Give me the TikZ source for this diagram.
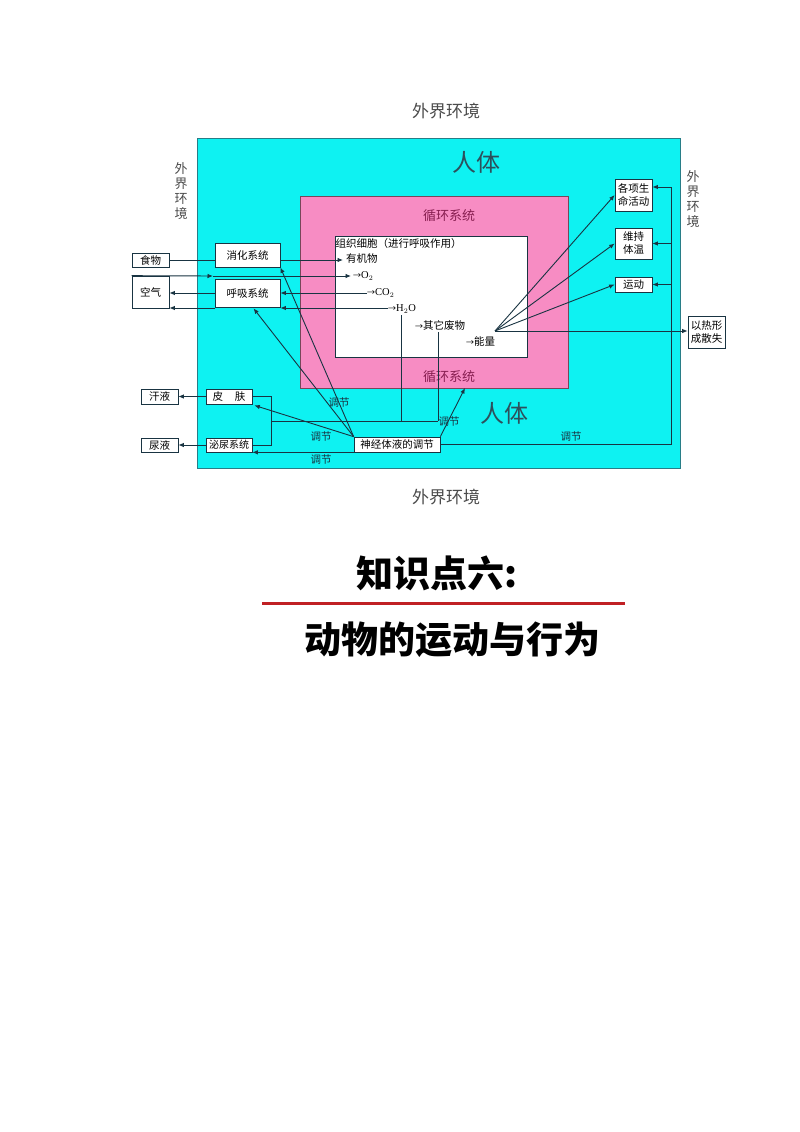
\documentclass[tikz,border=0pt]{standalone}
\usepackage{fontspec}
\setmainfont{Noto Sans CJK SC}
\newfontfamily\latf{Liberation Serif}
\usetikzlibrary{arrows.meta,calc}
\definecolor{cyanbg}{RGB}{14,242,242}
\definecolor{cyanbd}{RGB}{40,125,135}
\definecolor{pinkbg}{RGB}{247,140,195}
\definecolor{pinkbd}{RGB}{120,70,90}
\definecolor{lc}{RGB}{25,52,66}
\definecolor{bodytxt}{RGB}{45,80,92}
\definecolor{xhtxt}{RGB}{135,30,80}
\definecolor{envtxt}{RGB}{75,75,75}
\definecolor{titlered}{RGB}{192,32,36}
\newcommand\myfs[2]{\fontsize{#1}{#2}\selectfont}
\begin{document}
\begin{tikzpicture}[x=1pt,y=-1pt,
  box/.style={draw=lc, fill=white, line width=0.7pt, inner sep=0pt, font=\myfs{10.5}{13}, align=center},
  lab/.style={inner sep=0pt, font=\myfs{10.5}{13}},
  tj/.style={inner sep=0pt, font=\myfs{10.5}{13}, text=lc},
  ln/.style={draw=lc, line width=0.9pt},
  arr/.style={ln, -{Latex[length=5.5pt,width=4.5pt]}}]
\useasboundingbox (0,0) rectangle (800,1132);
\fill[white] (0,0) rectangle (800,1132);

% environment labels
\node[inner sep=0pt, font=\myfs{17}{19}, text=envtxt] (envtop) at (446,111) {外界环境};
\node[inner sep=0pt, font=\myfs{17}{19}, text=envtxt] (envbot) at (446,497) {外界环境};
\node[inner sep=0pt, font=\myfs{13}{15}, text=envtxt, align=center] (envl) at (181,191) {外\\界\\环\\境};
\node[inner sep=0pt, font=\myfs{13}{15}, text=envtxt, align=center] (envr) at (693,199) {外\\界\\环\\境};

% nested regions
\node[draw=cyanbd, fill=cyanbg, line width=0.9pt, minimum width=483pt, minimum height=330pt, inner sep=0pt] (body) at (438.5,303) {};
\node[draw=pinkbd, fill=pinkbg, line width=0.6pt, minimum width=268pt, minimum height=192pt, inner sep=0pt] (xh) at (434,292) {};
\node[draw=lc, fill=white, line width=0.6pt, minimum width=192pt, minimum height=121pt, inner sep=0pt] (cell) at (431,296.5) {};

\node[inner sep=0pt, font=\myfs{24}{26}, text=bodytxt] (rt1) at (476,162) {人体};
\node[inner sep=0pt, font=\myfs{24}{26}, text=bodytxt] (rt2) at (504,413) {人体};
\node[inner sep=0pt, font=\myfs{13}{15}, text=xhtxt] (xh1) at (449,216) {循环系统};
\node[inner sep=0pt, font=\myfs{13}{15}, text=xhtxt] (xh2) at (449,377) {循环系统};

% texts inside cell
\node[lab, anchor=west] (zz) at (335.5,244) {组织细胞（进行呼吸作用）};
\node[lab, anchor=west] (yjw) at (346,259) {有机物};
\node[lab, anchor=west] (o2) at (353,276) {{\myfs{8}{10}→}{\latf O$_2$}};
\node[lab, anchor=west] (co2) at (367,293) {{\myfs{8}{10}→}{\latf CO$_2$}};
\node[lab, anchor=west] (h2o) at (388,309) {{\myfs{8}{10}→}{\latf H$_2$O}};
\node[lab, anchor=west] (qt) at (415,325) {{\myfs{8}{10}→}其它废物};
\node[lab, anchor=west] (nl) at (466,341) {{\myfs{8}{10}→}能量};

% boxes
\node[box, minimum width=37pt, minimum height=14pt] (shiwu) at (150.5,260) {食物};
\node[box, minimum width=37pt, minimum height=32pt] (kongqi) at (150.5,292) {空气};
\node[box, minimum width=65pt, minimum height=24pt] (xiaohua) at (247.5,255) {消化系统};
\node[box, minimum width=65pt, minimum height=28pt] (huxi) at (247.5,293) {呼吸系统};
\node[box, minimum width=37pt, minimum height=15pt] (hanye) at (159.5,396.5) {汗液};
\node[box, minimum width=37pt, minimum height=14pt] (niaoye) at (159.5,445) {尿液};
\node[box, minimum width=46pt, minimum height=15pt] (pifu) at (229,396.5) {皮\hspace{12pt}肤};
\node[box, minimum width=46pt, minimum height=14pt, font=\myfs{10}{12}] (miniao) at (229,445) {泌尿系统};
\node[box, minimum width=86pt, minimum height=15pt] (shen) at (397,444.5) {神经体液的调节};
\node[box, minimum width=37pt, minimum height=32pt] (gexiang) at (633.5,195) {各项生\\命活动};
\node[box, minimum width=37pt, minimum height=31pt] (weichi) at (633.5,243.5) {维持\\体温};
\node[box, minimum width=37pt, minimum height=15pt] (yundong) at (633.5,284.5) {运动};
\node[box, minimum width=37pt, minimum height=32pt] (resan) at (706.5,332) {以热形\\成散失};

% food and air
\coordinate (youji) at (343,260);
\draw[ln] (shiwu.east) -- (shiwu.east -| xiaohua.west);
\draw[arr] (shiwu.east -| xiaohua.east) -- (youji);
\coordinate (o2mid) at (213,276);
\coordinate (o2end) at (351,276);
\draw[arr] (kongqi.north west) -- (o2mid);
\draw[arr] (o2mid) -- (o2end);
\coordinate (co2s) at (367,293);
\draw[arr] (co2s) -- (co2s -| huxi.east);
\draw[arr] (co2s -| huxi.west) -- (co2s -| kongqi.east);
\coordinate (h2os) at (388,308);
\draw[arr] (h2os) -- (h2os -| huxi.east);
\draw[arr] (h2os -| huxi.west) -- (h2os -| kongqi.east);

% energy
\coordinate (e) at (495,331);
\draw[arr] (e) -- (gexiang.west);
\draw[arr] (e) -- (weichi.west);
\draw[arr] (e) -- (yundong.west);
\draw[arr] (e) -- (e -| resan.west);

% right regulation
\coordinate (rtop) at (671,187);
\draw[ln] (shen.east) -- (shen.east -| rtop) -- (rtop);
\draw[arr] (rtop) -- (rtop -| gexiang.east);
\draw[arr] (rtop |- weichi.east) -- (weichi.east);
\draw[arr] (rtop |- yundong.east) -- (yundong.east);
\node[tj] (tj5) at (571,437) {调节};

% excretion
\draw[arr] (pifu.west) -- (hanye.east);
\draw[arr] (miniao.west) -- (niaoye.east);
\coordinate (bk) at (271,421);
\coordinate (h2ot) at (401,315);
\coordinate (h2ob) at (401,421);
\coordinate (qtt) at (438,332);
\coordinate (qtb) at (438,421);
\draw[ln] (pifu.east) -- (pifu.east -| bk) -- (miniao.east -| bk) -- (miniao.east);
\draw[ln] (h2ot) -- (h2ob);
\draw[ln] (qtt) -- (qtb);
\draw[ln] (bk) -- (qtb);

% regulation arrows from nerve-humoral box
\draw[arr] (shen.north west) -- (xiaohua.south east);
\draw[arr] (shen.north west) -- ($(huxi.south)+(6,1)$);
\draw[arr] (shen.north west) -- ($(pifu.south east)+(2,1)$);
\draw[arr] (shen.south west) -- (miniao.south east);
\coordinate (xhb) at (465,388);
\draw[arr] (shen.north east) -- (xhb);
\node[tj] (tj1) at (339,403) {调节};
\node[tj] (tj2) at (321,437) {调节};
\node[tj] (tj3) at (321,459) {调节};
\node[tj] (tj4) at (449,421) {调节};

% title
\node[inner sep=0pt, font=\myfs{37}{40}\bfseries] (t1) at (437,573) {知识点六:};
\coordinate (rl) at (262,603);
\coordinate (rr) at (625,603);
\draw[titlered, line width=3pt] (rl) -- (rr);
\node[inner sep=0pt, font=\myfs{37}{40}\bfseries] (t2) at (452,640) {动物的运动与行为};
\end{tikzpicture}
\end{document}
